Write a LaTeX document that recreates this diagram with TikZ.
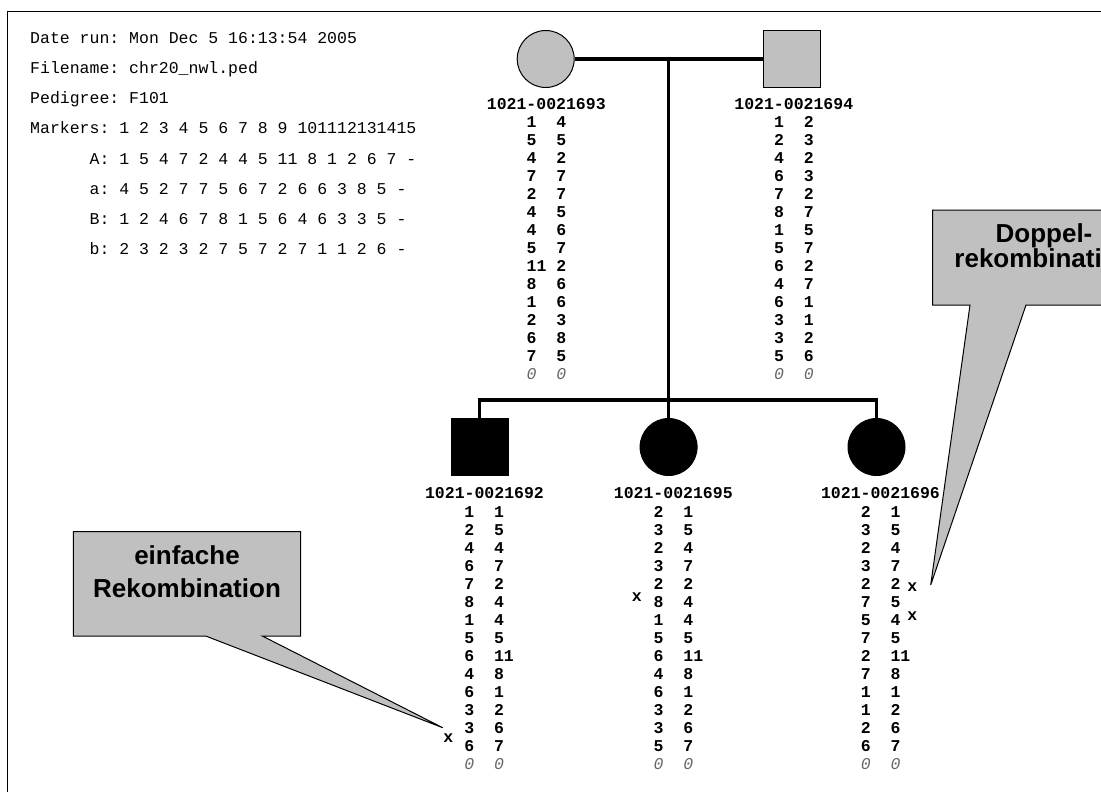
\documentclass[tikz,border=0pt]{standalone}
\usepackage{fontspec}
\setmainfont{Liberation Serif}
\setsansfont{Liberation Sans}
\setmonofont{Liberation Mono}
\usetikzlibrary{positioning}
\definecolor{pedgray}{HTML}{C0C0C0}
\frenchspacing

\begin{document}
\begin{tikzpicture}[x=1pt, y=-1pt,
  hdr/.style={font=\ttfamily\fontsize{16.5}{18}\selectfont, inner sep=0pt, anchor=base west},
  ident/.style={font=\ttfamily\bfseries\fontsize{16.5}{18}\selectfont, inner sep=0pt},
  allele/.style={ident, anchor=west},
  nul/.style={font=\ttfamily\itshape\fontsize{16.5}{18}\selectfont, text=black!60, inner sep=0pt, anchor=west},
  sym/.style={draw, line width=1pt, minimum size=57pt, inner sep=0pt},
  fem/.style={sym, circle},
  mal/.style={sym, rectangle},
  pline/.style={line width=3.3pt},
  callbox/.style={draw, fill=pedgray, line width=1pt},
  calltext/.style={font=\sffamily\bfseries\fontsize{26}{32.3}\selectfont, align=center, inner sep=0pt}]
  \useasboundingbox (0,0) rectangle (1101,792);
  \draw[line width=1.2pt] (7.3,11.7) rectangle (1300,1000);

  % run info
  \node[hdr] (run) at (30,43.3) {Date run: Mon Dec 5 16:13:54 2005};
  \node[hdr] (file) at (30,73.5) {Filename: chr20\_nwl.ped};
  \node[hdr] (ped) at (30,103.7) {Pedigree: F101};
  \node[hdr] (mark) at (30,133.9) {Markers: 1 2 3 4 5 6 7 8 9 101112131415};
  \node[hdr] (hA) at (89.4,164.1) {A: 1 5 4 7 2 4 4 5 11 8 1 2 6 7 -};
  \node[hdr] (ha) at (89.4,194.3) {a: 4 5 2 7 7 5 6 7 2 6 6 3 8 5 -};
  \node[hdr] (hB) at (89.4,224.5) {B: 1 2 4 6 7 8 1 5 6 4 6 3 3 5 -};
  \node[hdr] (hb) at (89.4,254.7) {b: 2 3 2 3 2 7 5 7 2 7 1 1 2 6 -};

  % pedigree
  \node[fem, fill=pedgray] (m93) at (545.7,59) {};
  \node[mal, fill=pedgray] (f94) at (791.5,59) {};
  \node[mal, fill=black] (c92) at (479.7,447) {};
  \node[fem, fill=black] (c95) at (668.6,447) {};
  \node[fem, fill=black] (c96) at (876.5,447) {};
  \draw[pline] (m93) -- node[coordinate] (mid) {} (f94);
  \draw[pline] (mid) -- (mid |- c95.north);
  \coordinate (sib) at (668.6,400);
  \draw[pline] (c92.north) |- (sib) -| (c96.north);

  \node[ident] (id93) at (546.3,104) {1021-0021693};
  \node[ident] (id94) at (793.8,104) {1021-0021694};
  \node[ident] (id92) at (484.5,493.5) {1021-0021692};
  \node[ident] (id95) at (673.3,493.5) {1021-0021695};
  \node[ident] (id96) at (880.5,493.5) {1021-0021696};

  % genotypes
  \foreach \a/\b [count=\i from 0] in {1/4,5/5,4/2,7/7,2/7,4/5,4/6,5/7,11/2,8/6,1/6,2/3,6/8,7/5}
    \node[allele] (g93-\i) at (526.5,122+18*\i) {\makebox[29.7pt][l]{\a}\b};
  \node[nul] (g93-z) at (526.5,374) {\makebox[29.7pt][l]{0}0};
  \foreach \a/\b [count=\i from 0] in {1/2,2/3,4/2,6/3,7/2,8/7,1/5,5/7,6/2,4/7,6/1,3/1,3/2,5/6}
    \node[allele] (g94-\i) at (774,122+18*\i) {\makebox[29.7pt][l]{\a}\b};
  \node[nul] (g94-z) at (774,374) {\makebox[29.7pt][l]{0}0};
  \foreach \a/\b [count=\i from 0] in {1/1,2/5,4/4,6/7,7/2,8/4,1/4,5/5,6/11,4/8,6/1,3/2,3/6,6/7}
    \node[allele] (g92-\i) at (464.2,512+18*\i) {\makebox[29.7pt][l]{\a}\b};
  \node[nul] (g92-z) at (464.2,764) {\makebox[29.7pt][l]{0}0};
  \foreach \a/\b [count=\i from 0] in {2/1,3/5,2/4,3/7,2/2,8/4,1/4,5/5,6/11,4/8,6/1,3/2,3/6,5/7}
    \node[allele] (g95-\i) at (653.5,512+18*\i) {\makebox[29.7pt][l]{\a}\b};
  \node[nul] (g95-z) at (653.5,764) {\makebox[29.7pt][l]{0}0};
  \foreach \a/\b [count=\i from 0] in {2/1,3/5,2/4,3/7,2/2,7/5,5/4,7/5,2/11,7/8,1/1,1/2,2/6,6/7}
    \node[allele] (g96-\i) at (860.7,512+18*\i) {\makebox[29.7pt][l]{\a}\b};
  \node[nul] (g96-z) at (860.7,764) {\makebox[29.7pt][l]{0}0};

  % crossover marks
  \node[ident] (x92) at (448.3,738.3) {x};
  \node[ident] (x95) at (636.7,597.3) {x};
  \node[ident] (x96a) at (912.3,587.3) {x};
  \node[ident] (x96b) at (912.3,616) {x};

  % callouts
  \coordinate (tip1) at (442.7,727.7);
  \filldraw[callbox] (73.3,531.7) -- (300.7,531.7) -- (300.7,636) -- (262.3,636)
    -- (tip1) -- (205.7,636) -- (73.3,636) -- cycle;
  \node[calltext] (ein) at (187,571.7) {einfache\\Rekombination};
  \coordinate (tip2) at (930.7,585);
  \filldraw[callbox] (932.7,210) -- (1155.3,210) -- (1155.3,305) -- (1026,305)
    -- (tip2) -- (970,305) -- (932.7,305) -- cycle;
  \node[calltext, font=\sffamily\bfseries\fontsize{26}{24}\selectfont] (dop) at (1044,245.8) {Doppel-\\rekombination};
\end{tikzpicture}
\end{document}
